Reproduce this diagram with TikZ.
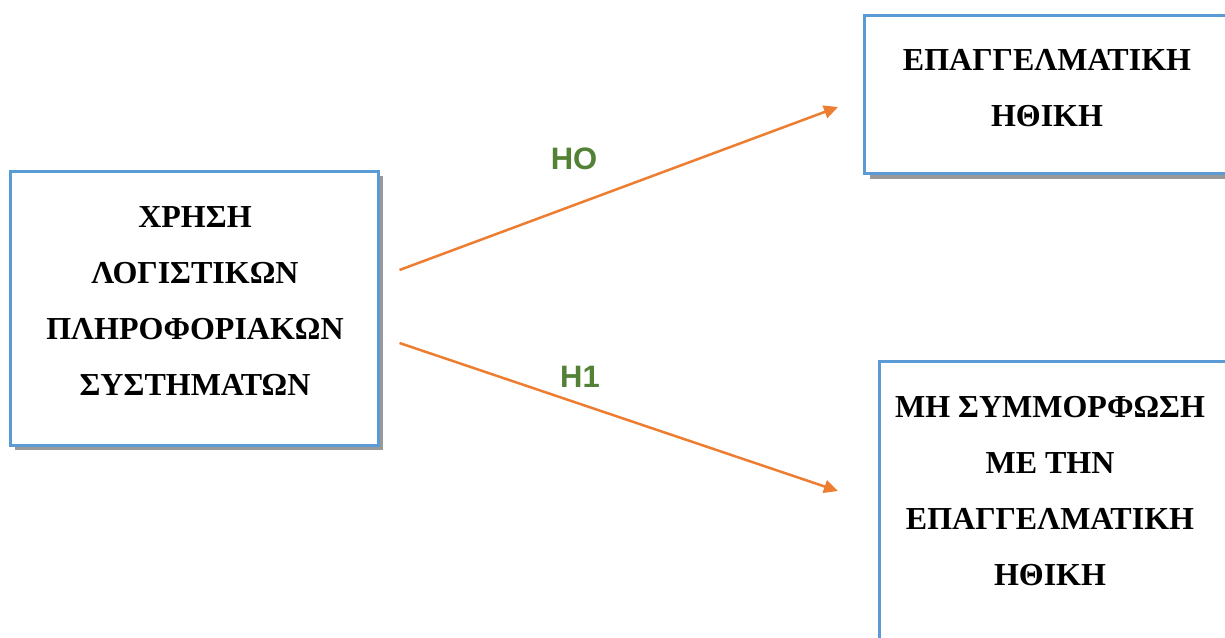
\documentclass[tikz,border=0pt]{standalone}
\usepackage{fontspec}
\setmainfont{Liberation Serif}
\newfontfamily\labelfont{Liberation Sans}
\usepackage{xcolor}
\usetikzlibrary{positioning,calc,shadows,arrows.meta}
\definecolor{boxblue}{HTML}{5B9BD5}
\definecolor{arrorange}{HTML}{ED7D31}
\definecolor{hypgreen}{HTML}{538135}

\begin{document}
\begin{tikzpicture}[x=0.5pt,y=-0.5pt,
    varbox/.style={draw=boxblue, line width=1.5pt, fill=white, minimum width=184pt, inner sep=0pt,
        drop shadow={shadow xshift=2.5pt, shadow yshift=-2.5pt, fill=black!40, opacity=1}},
    vartext/.style={align=center, font=\fontsize{16}{28}\selectfont\bfseries},
    hyparrow/.style={draw=arrorange, line width=1.25pt, -{Triangle[length=7pt,width=6.5pt]}},
    hyplabel/.style={text=hypgreen, font=\labelfont\fontsize{15.5}{18}\selectfont\bfseries}]
    \useasboundingbox (0,0) rectangle (1225,637);
    \clip (0,0) rectangle (1225,637);

    % Independent variable
    \node[varbox, minimum height=137pt] (xrisi) at (194,308) {};
    \node[vartext] (xrisitxt) at ($(xrisi.center)+(1,-7)$) {ΧΡΗΣΗ\\ΛΟΓΙΣΤΙΚΩΝ\\ΠΛΗΡΟΦΟΡΙΑΚΩΝ\\ΣΥΣΤΗΜΑΤΩΝ};

    % Dependent variables
    \node[varbox, minimum height=79pt, anchor=north west] (ithiki) at (863,14) {};
    \node[vartext] (ithikitxt) at (1047,88) {ΕΠΑΓΓΕΛΜΑΤΙΚΗ\\ΗΘΙΚΗ};
    \node[varbox, minimum height=150pt, anchor=north west] (asymm) at (878,360) {};
    \node[vartext] (asymmtxt) at (1050,491) {ΜΗ ΣΥΜΜΟΡΦΩΣΗ\\ΜΕ ΤΗΝ\\ΕΠΑΓΓΕΛΜΑΤΙΚΗ\\ΗΘΙΚΗ};

    % Hypotheses
    \coordinate (hostart) at ($(xrisi.east)+(20,-38)$);
    \coordinate (hoend) at (838,107);
    \coordinate (honestart) at ($(xrisi.east)+(20,35)$);
    \coordinate (honeend) at (838,491);
    \draw[hyparrow] (hostart) -- (hoend);
    \draw[hyparrow] (honestart) -- (honeend);
    \node[hyplabel] (ho) at (574,159) {HO};
    \node[hyplabel] (hone) at (580,377) {H1};
\end{tikzpicture}
\end{document}
